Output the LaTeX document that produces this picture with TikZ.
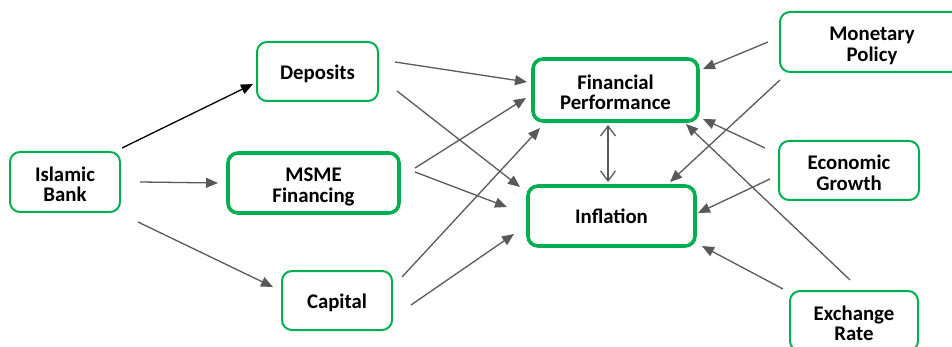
\documentclass[tikz,border=0pt]{standalone}
\usepackage{fontspec}
\setmainfont{Carlito}
\usetikzlibrary{arrows.meta}
\definecolor{boxgreen}{HTML}{00B050}
\definecolor{arrgray}{HTML}{595959}

% box label: centred lines, set a little below the optical middle
\newcommand{\boxlabel}[2][-1.7pt]{\raisebox{#1}[\height][\depth]{%
  \begin{tabular}{@{}c@{}}#2\end{tabular}}}
\newcommand{\twolabel}[1]{\boxlabel[-2.5pt]{#1}}

\begin{document}
\begin{tikzpicture}[x=0.5pt,y=-0.5pt,
  box/.style={draw=boxgreen, line width=1pt, rounded corners=5pt, fill=white,
    inner sep=0pt,
    font=\fontsize{10.4}{10}\selectfont\bfseries\renewcommand{\arraystretch}{0.96}},
  keybox/.style={box, line width=1.8pt},
  arr/.style={draw=arrgray, line width=0.65pt, -{Triangle[length=6pt,width=5pt]}},
  darr/.style={draw=arrgray, line width=0.65pt,
    {Straight Barb[length=5pt,width=7.5pt]}-{Straight Barb[length=5pt,width=7.5pt]}}]

\clip (0,0) rectangle (952,347);

% boxes
\node[box, minimum width=55pt, minimum height=30pt] (bank) at (65,182) {\twolabel{Islamic\\Bank}};
\node[box, minimum width=60.5pt, minimum height=29.5pt] (dep) at (317.5,71.5) {\boxlabel{Deposits}};
\node[keybox, minimum width=85.5pt, minimum height=30pt] (msme) at (313.5,183) {\twolabel{MSME\\Financing}};
\node[box, minimum width=55pt, minimum height=29.5pt] (cap) at (337,300.5) {\boxlabel{Capital}};
\node[keybox, minimum width=82.5pt, minimum height=31pt] (fp) at (615.5,90) {\twolabel{Financial\\Performance}};
\node[keybox, minimum width=83.5pt, minimum height=30pt] (infl) at (611.5,216) {\boxlabel{Inflation}};
\node[box, minimum width=92pt, minimum height=30pt] (mon) at (872,42) {\twolabel{Monetary\\Policy}};
\node[box, minimum width=70pt, minimum height=29.5pt] (eco) at (849,170.5) {\twolabel{Economic\\Growth}};
\node[box, minimum width=64pt, minimum height=30pt] (exc) at (854,321) {\twolabel{Exchange\\Rate}};

% connector end points
\coordinate (bank-o1) at (122,148);  \coordinate (dep-in)   at (253,84);
\coordinate (bank-o2) at (140,182);  \coordinate (msme-in)  at (218,183);
\coordinate (bank-o3) at (138,222);  \coordinate (cap-in)   at (273,287);
\coordinate (dep-o1)  at (395,62);   \coordinate (fp-in1)   at (527,82);
\coordinate (dep-o2)  at (397,91);   \coordinate (infl-in1) at (520,187);
\coordinate (msme-o1) at (415,168);  \coordinate (fp-in2)   at (526,98);
\coordinate (msme-o2) at (415,172);  \coordinate (infl-in2) at (507,207);
\coordinate (cap-o1)  at (402,277);  \coordinate (fp-in3)   at (540,128);
\coordinate (cap-o2)  at (411,305);  \coordinate (infl-in3) at (514,234);
\coordinate (fp-dn)   at (608,125);  \coordinate (infl-up)  at (608,182);
\coordinate (mon-o1)  at (768,42);   \coordinate (fp-in4)   at (703,69);
\coordinate (mon-o2)  at (780,80);   \coordinate (infl-in4) at (670,182);
\coordinate (eco-o1)  at (765,148);  \coordinate (fp-in5)   at (703,119);
\coordinate (eco-o2)  at (770,179);  \coordinate (infl-in5) at (698,213);
\coordinate (exc-o1)  at (850,280);  \coordinate (fp-in6)   at (686,124);
\coordinate (exc-o2)  at (783,289);  \coordinate (infl-in6) at (702,246);

% connectors
\draw[arr, draw=black] (bank-o1) -- (dep-in);
\draw[arr] (bank-o2) -- (msme-in);
\draw[arr] (bank-o3) -- (cap-in);
\draw[arr] (dep-o1) -- (fp-in1);
\draw[arr] (dep-o2) -- (infl-in1);
\draw[arr] (msme-o1) -- (fp-in2);
\draw[arr] (msme-o2) -- (infl-in2);
\draw[arr] (cap-o1) -- (fp-in3);
\draw[arr] (cap-o2) -- (infl-in3);
\draw[darr] (fp-dn) -- (infl-up);
\draw[arr] (mon-o1) -- (fp-in4);
\draw[arr] (mon-o2) -- (infl-in4);
\draw[arr] (eco-o1) -- (fp-in5);
\draw[arr] (eco-o2) -- (infl-in5);
\draw[arr] (exc-o1) -- (fp-in6);
\draw[arr] (exc-o2) -- (infl-in6);
\end{tikzpicture}
\end{document}
